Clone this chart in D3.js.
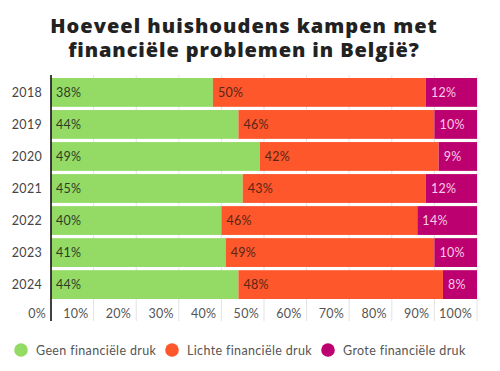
<!DOCTYPE html>
<html><head><meta charset="utf-8">
<script src="https://cdn.jsdelivr.net/npm/d3@7"></script>
<style>body{margin:0;background:#fff}svg{display:block}</style>
</head><body><svg id="c" width="500" height="371"></svg>
<script>
const years = ["2018","2019","2020","2021","2022","2023","2024"];
const seriesNames = ["Geen financiële druk","Lichte financiële druk","Grote financiële druk"];
const geen = [38,44,49,45,40,41,44];
const lichte = [50,46,42,43,46,49,48];
const grote = [12,10,9,12,14,10,8];
const tickValues = [0,10,20,30,40,50,60,70,80,90,100];
const colors = ["#94db66","#fd572b","#bd0070"];
const labelColors = ["#2f3a28","#5a2514","#f6cde3"];
const title = ["Hoeveel huishoudens kampen met","financiële problemen in België?"];

const svg = d3.select("#c");
const font = "Lato, 'Open Sans', sans-serif";
const m = {left:51, right:23, top:78, bottom:73};
const W = 500, H = 371;
const x = d3.scaleLinear().domain([0,100]).range([m.left, W-m.right]);
const y = d3.scaleBand().domain(years).range([m.top, 299]).paddingInner(0.1).paddingOuter(0.0);

// title
svg.append("g").selectAll("text").data(title).join("text")
  .attr("x", 244).attr("y",(d,i)=>33+i*24)
  .attr("text-anchor","middle")
  .attr("font-family","'Open Sans', sans-serif").attr("font-weight",800)
  .attr("font-size",20).attr("fill","#222")
  .attr("letter-spacing",(d,i)=>i===0?1.0:0.9)
  .text(d=>d);

// gridlines
svg.append("g").selectAll("line").data(tickValues.slice(1)).join("line")
  .attr("x1",d=>x(d)).attr("x2",d=>x(d))
  .attr("y1",75).attr("y2",321)
  .attr("stroke","#e3e3e3").attr("stroke-width",1);

// stacked data
const rows = years.map((yr,i)=>({year:yr, v:[geen[i],lichte[i],grote[i]]}));
const keys = [0,1,2];
const stack = d3.stack().keys(keys).value((d,k)=>d.v[k]);
const layers = stack(rows);

const g = svg.append("g");
layers.forEach((layer,k)=>{
  g.append("g").selectAll("rect").data(layer).join("rect")
    .attr("x",d=>x(d[0])).attr("width",d=>x(d[1])-x(d[0]))
    .attr("y",d=>y(d.data.year)).attr("height",y.bandwidth())
    .attr("fill",colors[k]);
  g.append("g").selectAll("text").data(layer).join("text")
    .attr("x",d=>x(d[0])+5)
    .attr("y",d=>y(d.data.year)+y.bandwidth()/2+4.5)
    .attr("font-family",font).attr("font-size",12.5).attr("letter-spacing",0.3)
    .attr("fill",labelColors[k])
    .text(d=>d.data.v[k]+"%");
});

// axis line
svg.append("line").attr("x1",x(0)).attr("x2",x(0)).attr("y1",75).attr("y2",321)
  .attr("stroke","#111").attr("stroke-width",1.6);

// y labels
svg.append("g").selectAll("text").data(years).join("text")
  .attr("x",42).attr("y",d=>y(d)+y.bandwidth()/2+4.5)
  .attr("text-anchor","end")
  .attr("font-family",font).attr("font-size",12.5).attr("letter-spacing",0.3).attr("fill","#444")
  .text(d=>d);

// x labels
svg.append("g").selectAll("text").data(tickValues).join("text")
  .attr("x",d=>x(d)-5).attr("y",318)
  .attr("text-anchor","end")
  .attr("font-family",font).attr("font-size",12.5).attr("letter-spacing",0.3).attr("fill","#555")
  .text(d=>d+"%");

// legend
const legX = [21,172,328];
const lg = svg.append("g").selectAll("g").data(seriesNames).join("g")
  .attr("transform",(d,i)=>`translate(${legX[i]},350)`);
lg.append("circle").attr("r",6.8).attr("fill",(d,i)=>colors[i]);
lg.append("text").attr("x",15).attr("y",4.5)
  .attr("font-family",font).attr("font-size",12.5).attr("letter-spacing",0.35).attr("fill","#555")
  .text(d=>d);
</script></body></html>
